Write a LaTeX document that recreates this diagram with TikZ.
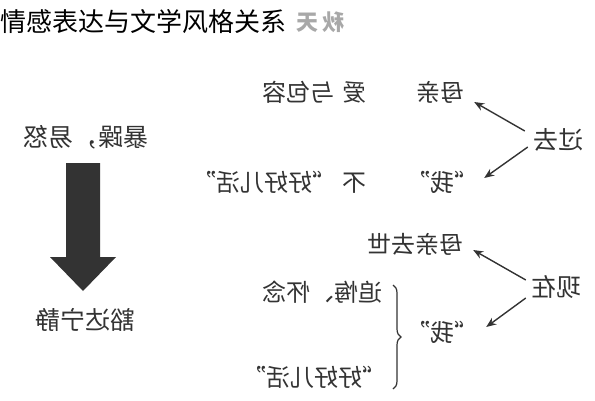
\documentclass[tikz,border=0pt]{standalone}
\usepackage{graphicx}
\usepackage{fontspec}
\newfontfamily\cjk{Noto Sans CJK SC}
\usepackage{xcolor}
\usepackage{tikz}
\usetikzlibrary{arrows.meta,positioning,decorations.pathreplacing}
\definecolor{inkgray}{HTML}{333333}
\definecolor{markgray}{HTML}{A8A8A8}
\newcommand{\flip}[1]{\reflectbox{#1}}

\begin{document}
\begin{tikzpicture}[
    x=1pt, y=-1pt,
    title/.style={font=\cjk\fontsize{26}{26}\selectfont, text=black, inner sep=0pt},
    watermark/.style={font=\cjk\bfseries\fontsize{22}{22}\selectfont, text=markgray, inner sep=0pt},
    word/.style={font=\cjk\fontsize{24}{24}\selectfont, text=inkgray, inner sep=0pt},
    bigword/.style={font=\cjk\fontsize{25}{25}\selectfont, text=inkgray, inner sep=0pt},
    arrow/.style={-{Stealth[length=10pt,width=8pt]}, line width=1.4pt, draw=inkgray},
    brace/.style={decorate, decoration={brace, amplitude=8pt}, line width=1.2pt, draw=inkgray}
]
\useasboundingbox (0,0) rectangle (595,400);

% Title
\node[watermark] (mark) at (320,22) {\flip{秋\hspace{4pt}天}};
\node[title, anchor=west] (title) at (0,22) {情感表达与文学风格关系};

% Left: mood change
\node[bigword] (bao) at (86,137) {\flip{暴躁，易怒}};
\node[bigword] (huoda) at (85,320) {\flip{豁达宁静}};
\fill[inkgray] (66,163) -- (100,163) -- (100,257) -- (116,257) -- (83,291)
    -- (50,257) -- (66,257) -- cycle;

% Past
\node[bigword] (guoqu) at (558,140) {\flip{过去}};
\node[word] (mu1) at (440,92) {\flip{母亲}};
\node[word, anchor=east] (ai) at (367,92) {\flip{爱\hspace{8pt}与包容}};
\node[word] (wo1) at (442,182) {\flip{“我”}};
\node[word, anchor=east] (bu) at (367,182) {\flip{不\hspace{6pt}“好好儿活”}};

% Now
\node[bigword] (xianzai) at (556,287) {\flip{现在}};
\node[word] (mu2) at (415,244) {\flip{母亲去世}};
\node[word] (wo2) at (442,332) {\flip{“我”}};
\node[word, anchor=east] (zhui) at (383,292) {\flip{追悔、怀念}};
\node[word, anchor=east] (hao) at (387,377) {\flip{“好好儿活”}};

% Arrows
\draw[arrow] ([shift={(-8,-9)}]guoqu.west) -- ([shift={(10,10)}]mu1.east);
\draw[arrow] ([shift={(-5,7)}]guoqu.west) -- ([shift={(6,-4)}]wo1.east);
\draw[arrow] ([shift={(-5,-7)}]xianzai.west) -- ([shift={(10,6)}]mu2.east);
\draw[arrow] ([shift={(-5,11)}]xianzai.west) -- ([shift={(8,-5)}]wo2.east);

% Brace
\coordinate (btop) at (393,285);
\coordinate (bbot) at (393,389);
\draw[brace] (btop) -- (bbot);

\end{tikzpicture}
\end{document}
